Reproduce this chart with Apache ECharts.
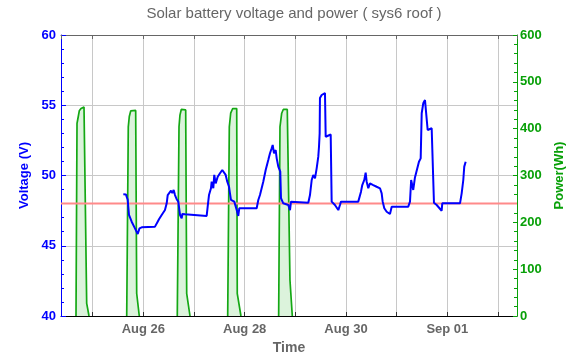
<!DOCTYPE html>
<html>
<head>
<meta charset="utf-8">
<script src="https://cdn.jsdelivr.net/npm/echarts@6/dist/echarts.min.js"></script>
<style>html,body{margin:0;padding:0;background:#fff}#c{width:576px;height:362px}</style>
</head>
<body>
<div id="c"></div>
<script>
// Time is given as fractional day of month counted from August (Aug 25 00:00 = 25, Sep 01 00:00 = 32)
var voltDay = [25.605,25.658,25.672,25.691,25.717,25.770,25.835,25.889,25.914,25.924,
25.968,26.230,26.250,26.283,26.309,26.329,26.362,26.394,26.427,26.461,
26.481,26.512,26.546,26.572,26.599,26.625,26.658,26.690,26.710,26.724,
26.757,26.769,26.822,27.250,27.270,27.296,27.335,27.349,27.381,27.400,
27.428,27.468,27.513,27.558,27.592,27.625,27.657,27.691,27.710,27.730,
27.795,27.843,27.874,27.894,28.237,28.269,28.302,28.367,28.415,28.466,
28.500,28.533,28.553,28.579,28.612,28.632,28.664,28.703,28.717,28.762,
28.861,28.895,28.914,29.256,29.289,29.323,29.354,29.388,29.421,29.453,
29.467,29.480,29.486,29.520,29.552,29.585,29.599,29.625,29.698,29.717,
29.782,29.848,29.881,29.901,30.242,30.296,30.321,30.361,30.388,30.408,
30.440,30.473,30.507,30.538,30.572,30.605,30.671,30.704,30.724,30.756,
30.803,30.868,30.888,30.902,31.229,31.263,31.286,31.327,31.361,31.395,
31.440,31.474,31.494,31.525,31.559,31.592,31.612,31.638,31.691,31.723,
31.736,31.790,31.888,31.900,32.250,32.283,32.315,32.334,32.362];
var voltValue = [48.66,48.65,48.47,48.29,47.19,46.71,46.24,45.84,45.77,46.24,
46.31,46.36,46.48,46.71,46.88,46.76,47.19,47.31,47.54,48.02,
48.61,48.73,48.92,48.75,48.97,48.61,48.31,48.14,48.04,47.19,
46.95,47.26,47.24,47.12,47.78,48.61,49.09,49.56,49.09,50.04,
49.44,49.91,50.16,50.39,50.44,50.04,49.56,49.20,48.73,48.26,
48.14,47.54,47.12,47.67,47.67,48.26,48.61,49.56,50.39,51.10,
51.58,51.94,52.17,51.58,51.81,51.22,50.63,50.27,48.38,48.02,
47.90,47.54,48.14,48.06,48.61,49.68,50.04,49.80,50.51,51.34,
52.05,53.00,55.52,55.73,55.85,55.87,52.76,52.67,52.92,48.14,
47.90,47.54,47.90,48.14,48.14,48.85,49.32,49.68,50.20,49.56,
49.09,49.44,49.56,49.32,49.44,49.20,49.09,48.73,48.14,47.67,
47.42,47.26,47.19,47.78,47.78,48.14,49.68,48.97,49.86,49.80,
50.98,51.22,54.43,55.14,55.37,55.49,53.24,53.29,53.36,53.29,
48.06,47.90,47.49,48.02,48.02,48.73,49.68,50.63,50.98];
var powerDay = [24.671,24.691,24.716,24.736,24.770,24.829,24.849,24.882,24.928, 25.3,
25.672,25.703,25.723,25.751,25.770,25.849,25.869,25.920, 26.3,
26.670,26.704,26.723,26.749,26.836,26.856,26.921, 27.3,
27.665,27.697,27.724,27.764,27.843,27.854,27.927, 28.3,
28.671,28.697,28.731,28.762,28.841,28.894,28.940];
var powerValue = [0,411,426,438,443,446,443,27,0, null,
0,404,426,438,439,439,48,0, null,
0,404,429,441,440,48,0, null,
0,404,433,443,443,48,0, null,
0,404,433,441,441,77,0];
var thresholdVolt = 48;
var xMin = 24.375, xMax = 33.375;
var voltTicks = {min: 40, max: 60, interval: 5};
var powerTicks = {min: 0, max: 600, interval: 100};

var voltData = voltDay.map(function (d, i) { return [d, voltValue[i]]; });
var powerData = powerDay.map(function (d, i) { return [d, powerValue[i] === null ? '-' : powerValue[i]]; });
var thresholdData = [[xMin, thresholdVolt], [xMax, thresholdVolt]];

function dayLabel(v) {
  var r = Math.round(v);
  if (Math.abs(v - r) > 1e-6 || r % 2 !== 0) return '';
  if (r <= 31) return 'Aug ' + r;
  var s = r - 31;
  return 'Sep ' + (s < 10 ? '0' + s : s);
}

var FONT = 'Liberation Sans';
var BLUE = '#0000ff', GREEN = '#08a008', GRAY = '#666666';
var chart = echarts.init(document.getElementById('c'), null, {renderer: 'canvas'});
chart.setOption({
  animation: false,
  backgroundColor: '#ffffff',
  title: {
    text: 'Solar battery voltage and power ( sys6 roof )',
    left: 289, textAlign: 'center', top: 1,
    textStyle: {fontFamily: FONT, fontSize: 15, fontWeight: 'normal', color: GRAY}
  },
  grid: {left: 61, right: 59, top: 35, bottom: 46, containLabel: false},
  xAxis: [{
    type: 'value', min: xMin, max: xMax, splitNumber: 9, minInterval: 1, maxInterval: 1,
    name: 'Time', nameLocation: 'middle', nameGap: 23,
    nameTextStyle: {fontFamily: FONT, fontSize: 14, fontWeight: 'bold', color: GRAY},
    axisLine: {show: true, lineStyle: {color: '#000', width: 1}},
    axisTick: {show: true, inside: true, length: 4, lineStyle: {color: '#333'}},
    axisLabel: {formatter: dayLabel, margin: 7, fontFamily: FONT, fontSize: 13, fontWeight: 'bold', color: GRAY, showMinLabel: false, showMaxLabel: false},
    splitLine: {show: true, lineStyle: {color: '#c8c8c8', width: 1}}
  }, {
    type: 'value', position: 'top', min: xMin, max: xMax, splitNumber: 9, minInterval: 1, maxInterval: 1,
    axisLine: {show: true, onZero: false, lineStyle: {color: GRAY, width: 1}},
    axisTick: {show: true, inside: true, length: 4, lineStyle: {color: GRAY}},
    axisLabel: {show: false},
    splitLine: {show: false}
  }],
  yAxis: [{
    type: 'value', min: voltTicks.min, max: voltTicks.max, interval: voltTicks.interval, position: 'left',
    name: 'Voltage (V)', nameLocation: 'middle', nameGap: 27,
    nameTextStyle: {fontFamily: FONT, fontSize: 13, fontWeight: 'bold', color: BLUE},
    axisLine: {show: true, lineStyle: {color: BLUE, width: 1}},
    axisTick: {show: true, inside: true, length: 5, lineStyle: {color: BLUE}},
    minorTick: {show: true, splitNumber: 5, length: 3, lineStyle: {color: BLUE}},
    axisLabel: {margin: 5, fontFamily: FONT, fontSize: 13, fontWeight: 'bold', color: BLUE},
    splitLine: {show: true, lineStyle: {color: '#c8c8c8', width: 1}}
  }, {
    type: 'value', min: powerTicks.min, max: powerTicks.max, interval: powerTicks.interval, position: 'right',
    name: 'Power(Wh)', nameLocation: 'middle', nameGap: 30, nameRotate: 90,
    nameTextStyle: {fontFamily: FONT, fontSize: 13, fontWeight: 'bold', color: GREEN},
    axisLine: {show: true, lineStyle: {color: GREEN, width: 1}},
    axisTick: {show: true, inside: true, length: 4, lineStyle: {color: GREEN}},
    minorTick: {show: true, splitNumber: 5, length: 3, lineStyle: {color: GREEN}},
    axisLabel: {margin: 3, fontFamily: FONT, fontSize: 13, fontWeight: 'bold', color: GREEN},
    splitLine: {show: false}
  }],
  series: [{
    name: 'Power', type: 'line', xAxisIndex: 0, yAxisIndex: 1, data: powerData,
    showSymbol: false, connectNulls: false, silent: true,
    lineStyle: {color: '#14a814', width: 1.7},
    areaStyle: {color: 'rgba(100,200,100,0.32)'},
    z: 2
  }, {
    name: 'Threshold', type: 'line', xAxisIndex: 0, yAxisIndex: 0, data: thresholdData,
    showSymbol: false, silent: true,
    lineStyle: {color: '#ff8a8a', width: 2},
    z: 3
  }, {
    name: 'Voltage', type: 'line', xAxisIndex: 0, yAxisIndex: 0, data: voltData,
    showSymbol: false, silent: true,
    lineStyle: {color: BLUE, width: 2},
    z: 4
  }]
});
</script>
</body>
</html>
